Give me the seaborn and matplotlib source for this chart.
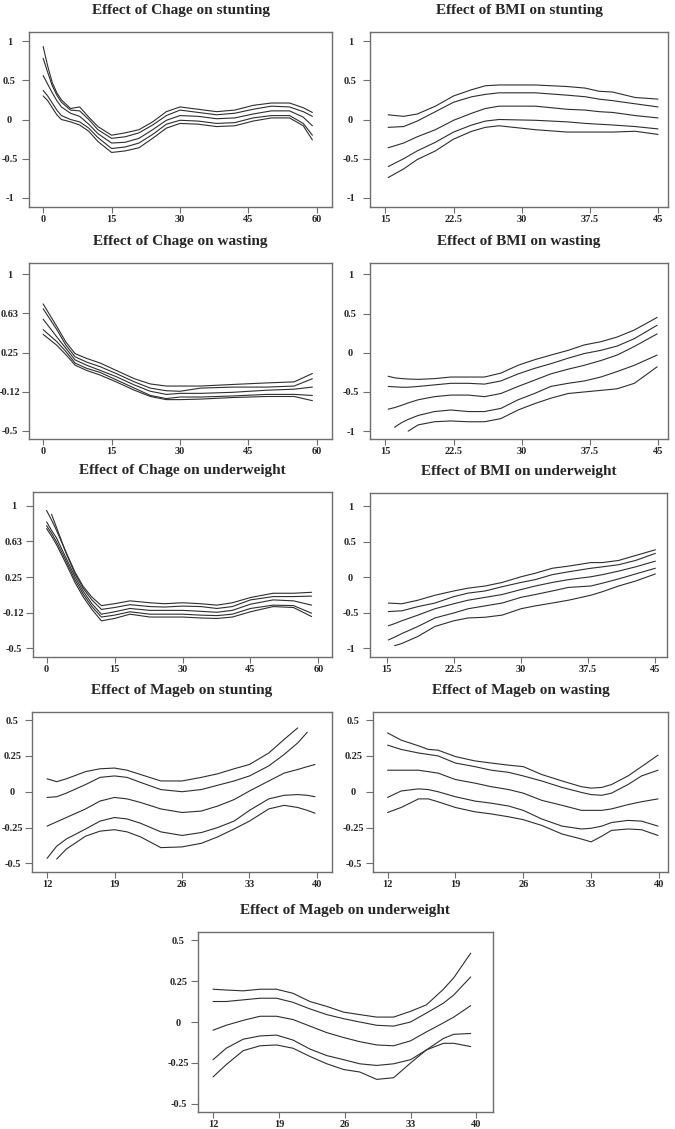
import numpy as np
import pandas as pd
import matplotlib
matplotlib.use("Agg")
import matplotlib.pyplot as plt
import seaborn as sns

nan = np.nan

# ---------------- data ----------------
# Panel 1: Effect of Chage on stunting
cs_x    = [0, 1, 2, 3, 4, 6, 8, 10, 12, 15, 18, 21, 24, 27, 30, 34, 38, 42, 46, 50, 54, 57, 59]
cs_u95  = [0.93, 0.68, 0.47, 0.34, 0.25, 0.14, 0.16, 0.03, -0.09, -0.20, -0.17, -0.13, -0.03, 0.10, 0.16, 0.13, 0.10, 0.12, 0.18, 0.21, 0.21, 0.15, 0.09]
cs_u80  = [0.78, 0.60, 0.43, 0.31, 0.22, 0.12, 0.11, 0.00, -0.13, -0.24, -0.22, -0.17, -0.07, 0.05, 0.12, 0.09, 0.06, 0.08, 0.13, 0.17, 0.16, 0.10, 0.04]
cs_mean = [0.56, 0.45, 0.34, 0.24, 0.16, 0.08, 0.04, -0.06, -0.18, -0.30, -0.29, -0.24, -0.13, -0.01, 0.05, 0.04, 0.01, 0.02, 0.07, 0.11, 0.11, 0.03, -0.08]
cs_l80  = [0.37, 0.30, 0.21, 0.12, 0.05, 0.00, -0.03, -0.11, -0.23, -0.37, -0.35, -0.30, -0.19, -0.06, -0.01, -0.02, -0.05, -0.04, 0.02, 0.05, 0.05, -0.05, -0.20]
cs_l95  = [0.30, 0.24, 0.15, 0.06, 0.00, -0.03, -0.07, -0.15, -0.28, -0.42, -0.40, -0.36, -0.24, -0.11, -0.05, -0.06, -0.09, -0.08, -0.02, 0.02, 0.02, -0.08, -0.26]

# Panel 2: Effect of BMI on stunting
bs_x    = [15.3, 17, 18.5, 20.5, 22.5, 24.5, 26, 27.5, 31.5, 35, 37, 38.5, 40, 42.5, 45]
bs_u95  = [0.06, 0.04, 0.07, 0.17, 0.30, 0.38, 0.43, 0.44, 0.44, 0.42, 0.40, 0.36, 0.35, 0.28, 0.26]
bs_u80  = [-0.10, -0.09, -0.02, 0.10, 0.22, 0.29, 0.32, 0.34, 0.34, 0.31, 0.29, 0.26, 0.24, 0.20, 0.16]
bs_mean = [-0.36, -0.30, -0.22, -0.13, -0.01, 0.08, 0.14, 0.17, 0.17, 0.13, 0.12, 0.10, 0.09, 0.05, 0.02]
bs_l80  = [-0.60, -0.50, -0.40, -0.29, -0.16, -0.07, -0.02, 0.00, -0.01, -0.03, -0.05, -0.06, -0.07, -0.09, -0.12]
bs_l95  = [-0.74, -0.63, -0.51, -0.40, -0.25, -0.15, -0.10, -0.08, -0.13, -0.16, -0.16, -0.16, -0.16, -0.15, -0.19]

# Panel 3: Effect of Chage on wasting
cw_x    = [0, 3, 5, 7, 9.5, 12.5, 16, 20, 23.5, 27, 30, 34.5, 41.5, 49, 55, 59]
cw_u95  = [0.716, 0.50, 0.35, 0.24, 0.195, 0.15, 0.08, 0.00, -0.05, -0.07, -0.07, -0.07, -0.055, -0.04, -0.03, 0.05]
cw_u80  = [0.67, 0.47, 0.32, 0.21, 0.16, 0.115, 0.05, -0.03, -0.09, -0.115, -0.12, -0.09, -0.08, -0.08, -0.07, 0.00]
cw_mean = [0.57, 0.40, 0.29, 0.18, 0.13, 0.08, 0.02, -0.06, -0.12, -0.15, -0.14, -0.14, -0.13, -0.11, -0.10, -0.08]
cw_l80  = [0.47, 0.355, 0.26, 0.15, 0.10, 0.06, -0.01, -0.09, -0.16, -0.19, -0.175, -0.175, -0.165, -0.15, -0.15, -0.16]
cw_l95  = [0.425, 0.32, 0.23, 0.13, 0.08, 0.035, -0.03, -0.11, -0.17, -0.20, -0.20, -0.195, -0.18, -0.17, -0.17, -0.21]

# Panel 4: Effect of BMI on wasting
bw_x    = [15.3, 16.0, 16.8, 17.5, 18.6, 20.4, 22.2, 24.1, 25.9, 27.7, 29.6, 31.4, 33.2, 35.1, 36.9, 38.7, 40.5, 42.4, 44.9]
bw_u95  = [-0.30, -0.32, -0.33, -0.335, -0.34, -0.33, -0.31, -0.31, -0.31, -0.26, -0.16, -0.09, -0.03, 0.03, 0.10, 0.14, 0.20, 0.29, 0.45]
bw_u80  = [-0.43, -0.435, -0.44, -0.44, -0.43, -0.41, -0.39, -0.39, -0.40, -0.36, -0.27, -0.20, -0.14, -0.07, -0.01, 0.03, 0.085, 0.18, 0.35]
bw_mean = [-0.72, -0.70, -0.67, -0.64, -0.60, -0.56, -0.54, -0.54, -0.56, -0.52, -0.43, -0.35, -0.27, -0.21, -0.16, -0.10, -0.03, 0.08, 0.24]
bw_l80  = [nan, -0.95, -0.89, -0.85, -0.80, -0.75, -0.73, -0.75, -0.75, -0.71, -0.60, -0.52, -0.43, -0.39, -0.36, -0.31, -0.24, -0.16, -0.03]
bw_l95  = [nan, nan, nan, -1.00, -0.92, -0.88, -0.87, -0.88, -0.88, -0.84, -0.73, -0.65, -0.58, -0.52, -0.50, -0.48, -0.46, -0.39, -0.18]

# Panel 5: Effect of Chage on underweight
cu_x    = [0, 1.1, 2.2, 4.4, 6.3, 8.1, 10, 12.1, 15, 18.4, 22.8, 26, 30, 34, 37.6, 41, 45, 50, 54.5, 58.5]
cu_u95  = [0.95, 0.85, 0.74, 0.50, 0.30, 0.15, 0.04, -0.05, -0.03, 0.00, -0.02, -0.03, -0.02, -0.03, -0.045, -0.02, 0.035, 0.08, 0.08, 0.09]
cu_u80  = [nan, 0.91, 0.77, 0.49, 0.28, 0.13, 0.01, -0.09, -0.07, -0.04, -0.06, -0.065, -0.055, -0.06, -0.08, -0.06, 0.01, 0.045, 0.045, 0.05]
cu_mean = [0.83, 0.74, 0.66, 0.44, 0.25, 0.10, -0.03, -0.14, -0.115, -0.08, -0.10, -0.10, -0.10, -0.11, -0.12, -0.10, -0.035, 0.01, 0.00, -0.045]
cu_l80  = [0.79, 0.71, 0.62, 0.41, 0.22, 0.07, -0.06, -0.17, -0.15, -0.115, -0.14, -0.14, -0.14, -0.15, -0.155, -0.14, -0.08, -0.045, -0.05, -0.13]
cu_l95  = [0.76, 0.68, 0.59, 0.38, 0.19, 0.04, -0.09, -0.21, -0.185, -0.14, -0.17, -0.17, -0.17, -0.18, -0.185, -0.17, -0.115, -0.06, -0.07, -0.165]

# Panel 6: Effect of BMI on underweight
bu_x    = [15.2, 15.9, 16.7, 18.5, 20.4, 22.5, 24.1, 26.0, 27.9, 30.0, 31.6, 33.5, 35.3, 37.8, 39.1, 40.9, 42.8, 45.0]
bu_u95  = [-0.36, -0.365, -0.37, -0.32, -0.25, -0.19, -0.15, -0.12, -0.07, 0.01, 0.06, 0.13, 0.16, 0.21, 0.21, 0.24, 0.31, 0.39]
bu_u80  = [-0.48, -0.475, -0.47, -0.41, -0.36, -0.27, -0.22, -0.19, -0.13, -0.07, -0.03, 0.04, 0.08, 0.13, 0.15, 0.18, 0.24, 0.34]
bu_mean = [-0.68, -0.65, -0.61, -0.53, -0.44, -0.37, -0.32, -0.28, -0.24, -0.17, -0.12, -0.07, -0.03, 0.01, 0.04, 0.09, 0.15, 0.23]
bu_l80  = [-0.88, -0.84, -0.79, -0.69, -0.57, -0.50, -0.44, -0.40, -0.36, -0.28, -0.24, -0.19, -0.14, -0.12, -0.08, -0.02, 0.05, 0.13]
bu_l95  = [nan, -0.96, -0.93, -0.83, -0.69, -0.61, -0.57, -0.56, -0.53, -0.44, -0.40, -0.36, -0.32, -0.25, -0.20, -0.12, -0.05, 0.05]

# Panel 7: Effect of Mageb on stunting
ms_x    = [12, 13, 14, 16, 17.5, 19, 20.3, 21.7, 23.8, 26, 28, 29.7, 31.4, 33, 35, 36.6, 38, 39, 39.8]
ms_u95  = [0.09, 0.07, 0.09, 0.14, 0.16, 0.165, 0.15, 0.12, 0.075, 0.075, 0.10, 0.125, 0.16, 0.19, 0.27, 0.365, 0.445, nan, nan]
ms_u80  = [-0.04, -0.035, -0.01, 0.05, 0.10, 0.11, 0.10, 0.065, 0.015, 0.00, 0.015, 0.045, 0.075, 0.11, 0.18, 0.26, 0.34, 0.415, nan]
ms_mean = [-0.24, -0.21, -0.18, -0.12, -0.065, -0.04, -0.05, -0.075, -0.12, -0.145, -0.135, -0.10, -0.055, 0.005, 0.075, 0.13, 0.155, 0.175, 0.19]
ms_l80  = [-0.465, -0.38, -0.33, -0.26, -0.205, -0.18, -0.19, -0.22, -0.28, -0.305, -0.285, -0.25, -0.205, -0.13, -0.05, -0.025, -0.02, -0.025, -0.035]
ms_l95  = [nan, -0.47, -0.40, -0.31, -0.275, -0.265, -0.28, -0.315, -0.39, -0.385, -0.36, -0.315, -0.26, -0.205, -0.12, -0.095, -0.11, -0.13, -0.15]

# Panel 8: Effect of Mageb on wasting
mw_x    = [12, 13.4, 15.2, 16.2, 17.2, 19, 21, 22.7, 24.5, 26, 27.9, 30, 32, 33, 34.1, 35.1, 36.8, 38.2, 39.9]
mw_u95  = [0.41, 0.36, 0.32, 0.295, 0.29, 0.245, 0.215, 0.20, 0.185, 0.175, 0.12, 0.075, 0.035, 0.025, 0.03, 0.05, 0.11, 0.175, 0.255]
mw_u80  = [0.325, 0.295, 0.27, 0.26, 0.25, 0.20, 0.175, 0.15, 0.135, 0.11, 0.075, 0.03, -0.005, -0.02, -0.025, -0.01, 0.05, 0.11, 0.15]
mw_mean = [0.15, 0.15, 0.15, 0.14, 0.13, 0.085, 0.06, 0.035, 0.015, -0.01, -0.06, -0.095, -0.13, -0.13, -0.13, -0.12, -0.09, -0.07, -0.05]
mw_l80  = [-0.04, 0.005, 0.02, 0.015, 0.00, -0.035, -0.065, -0.08, -0.10, -0.13, -0.19, -0.24, -0.26, -0.255, -0.24, -0.215, -0.20, -0.205, -0.24]
mw_l95  = [-0.145, -0.11, -0.05, -0.05, -0.07, -0.11, -0.14, -0.155, -0.175, -0.195, -0.235, -0.295, -0.33, -0.35, -0.31, -0.27, -0.26, -0.265, -0.305]

# Panel 9: Effect of Mageb on underweight
mu_x    = [12, 13.4, 15.2, 17.0, 18.75, 20.5, 22.3, 24.1, 25.9, 27.6, 29.4, 31.2, 33.0, 34.7, 36.5, 37.6, 39.4]
mu_u95  = [0.20, 0.195, 0.19, 0.20, 0.20, 0.175, 0.125, 0.095, 0.06, 0.045, 0.03, 0.03, 0.065, 0.105, 0.20, 0.27, 0.42]
mu_u80  = [0.125, 0.125, 0.135, 0.145, 0.145, 0.12, 0.08, 0.045, 0.02, 0.00, -0.02, -0.025, 0.00, 0.055, 0.115, 0.165, 0.275]
mu_mean = [-0.05, -0.02, 0.01, 0.035, 0.035, 0.015, -0.025, -0.065, -0.095, -0.12, -0.14, -0.145, -0.115, -0.06, -0.005, 0.03, 0.10]
mu_l80  = [-0.23, -0.16, -0.105, -0.085, -0.08, -0.11, -0.165, -0.205, -0.23, -0.255, -0.265, -0.255, -0.23, -0.17, -0.10, -0.075, -0.07]
mu_l95  = [-0.335, -0.26, -0.175, -0.145, -0.14, -0.16, -0.21, -0.255, -0.29, -0.305, -0.35, -0.34, -0.25, -0.17, -0.13, -0.13, -0.15]

titles = ["Effect of Chage on stunting", "Effect of BMI on stunting",
          "Effect of Chage on wasting", "Effect of BMI on wasting",
          "Effect of Chage on underweight", "Effect of BMI on underweight",
          "Effect of Mageb on stunting", "Effect of Mageb on wasting",
          "Effect of Mageb on underweight"]

chage_ticks = [0, 15, 30, 45, 60]
bmi_ticks = [15, 22.5, 30, 37.5, 45]
bmi_ticklabels = ["15", "22.5", "30", "37.5", "45"]
mageb_ticks = [12, 19, 26, 33, 40]
y_ticks_a = [-1, -0.5, 0, 0.5, 1]
y_ticklabels_a = ["-1", "-0.5", "0", "0.5", "1"]
y_ticks_b = [-0.5, -0.125, 0.25, 0.625, 1]
y_ticklabels_b = ["-0.5", "-0.12", "0.25", "0.63", "1"]
y_ticks_c = [-0.5, -0.25, 0, 0.25, 0.5]
y_ticklabels_c = ["-0.5", "-0.25", "0", "0.25", "0.5"]

# ---------------- figure ----------------
sns.set_style("white")
plt.rcParams['font.family'] = ['Liberation Serif', 'DejaVu Serif']
plt.rcParams['font.weight'] = 'bold'

W, H = 675, 1129
fig = plt.figure(figsize=(W / 100, H / 100), dpi=100)

def add_ax(x0, y0, x1, y1):
    return fig.add_axes([x0 / W, 1 - y1 / H, (x1 - x0) / W, (y1 - y0) / H])

panels = [
    (titles[0], cs_x, [cs_u95, cs_u80, cs_mean, cs_l80, cs_l95], (29, 32, 332, 207), (-3.1, 63.3), (-1.115, 1.115),
     chage_ticks, [str(t) for t in chage_ticks], y_ticks_a, y_ticklabels_a),
    (titles[1], bs_x, [bs_u95, bs_u80, bs_mean, bs_l80, bs_l95], (370, 32, 668, 207), (13.3, 46.1), (-1.115, 1.115),
     bmi_ticks, bmi_ticklabels, y_ticks_a, y_ticklabels_a),
    (titles[2], cw_x, [cw_u95, cw_u80, cw_mean, cw_l80, cw_l95], (29, 263, 332, 439), (-3.1, 63.3), (-0.577, 1.108),
     chage_ticks, [str(t) for t in chage_ticks], y_ticks_b, y_ticklabels_b),
    (titles[3], bw_x, [bw_u95, bw_u80, bw_mean, bw_l80, bw_l95], (370, 263, 668, 439), (13.3, 46.1), (-1.10, 1.144),
     bmi_ticks, bmi_ticklabels, y_ticks_a, y_ticklabels_a),
    (titles[4], cu_x, [cu_u95, cu_u80, cu_mean, cu_l80, cu_l95], (33, 492, 332, 657), (-3.0, 63.0), (-0.59, 1.144),
     chage_ticks, [str(t) for t in chage_ticks], y_ticks_b, y_ticklabels_b),
    (titles[5], bu_x, [bu_u95, bu_u80, bu_mean, bu_l80, bu_l95], (370, 493, 667, 657), (13.15, 46.3), (-1.12, 1.19),
     bmi_ticks, bmi_ticklabels, y_ticks_a, y_ticklabels_a),
    (titles[6], ms_x, [ms_u95, ms_u80, ms_mean, ms_l80, ms_l95], (32, 712, 332, 872), (10.44, 41.56), (-0.56, 0.556),
     mageb_ticks, [str(t) for t in mageb_ticks], y_ticks_c, y_ticklabels_c),
    (titles[7], mw_x, [mw_u95, mw_u80, mw_mean, mw_l80, mw_l95], (373, 712, 668, 872), (10.5, 40.93), (-0.56, 0.556),
     mageb_ticks, [str(t) for t in mageb_ticks], y_ticks_c, y_ticklabels_c),
    (titles[8], mu_x, [mu_u95, mu_u80, mu_mean, mu_l80, mu_l95], (198, 932, 493, 1112), (10.4, 41.77), (-0.549, 0.549),
     mageb_ticks, [str(t) for t in mageb_ticks], y_ticks_c, y_ticklabels_c),
]

line_color = "#2e2e2e"
frame_color = "#6e6e6e"
curve_names = ["upper95", "upper80", "mean", "lower80", "lower95"]

for (title, xs, curves, rect, xlim, ylim, xt, xtl, yt, ytl) in panels:
    ax = add_ax(*rect)
    rows = []
    for name, ys in zip(curve_names, curves):
        for xv, yv in zip(xs, ys):
            rows.append({"x": xv, "y": yv, "curve": name})
    df = pd.DataFrame(rows)
    for name in curve_names:
        sub = df[(df["curve"] == name)].dropna()
        sns.lineplot(data=sub, x="x", y="y", ax=ax, color=line_color, linewidth=0.8,
                     estimator=None, sort=False, legend=False)
    ax.set_xlim(*xlim)
    ax.set_ylim(*ylim)
    ax.set_xticks(xt)
    ax.set_xticklabels(xtl)
    ax.set_yticks(yt)
    ax.set_yticklabels(ytl)
    ax.set_xlabel("")
    ax.set_ylabel("")
    for sp in ax.spines.values():
        sp.set_visible(True)
        sp.set_color(frame_color)
        sp.set_linewidth(1.0)
    ax.tick_params(axis="x", direction="out", length=4, width=0.8, color=frame_color,
                   labelsize=7.5, pad=2, bottom=True)
    ax.tick_params(axis="y", direction="out", length=5, width=0.8, color=frame_color,
                   labelsize=7.5, pad=9, left=True)
    for lab in ax.get_yticklabels():
        lab.set_horizontalalignment("center")
        lab.set_fontweight("bold")
    for lab in ax.get_xticklabels():
        lab.set_fontweight("bold")
    ax.set_title(title, fontsize=11, fontweight="bold", pad=13)

fig.savefig("out.png", dpi=100)
